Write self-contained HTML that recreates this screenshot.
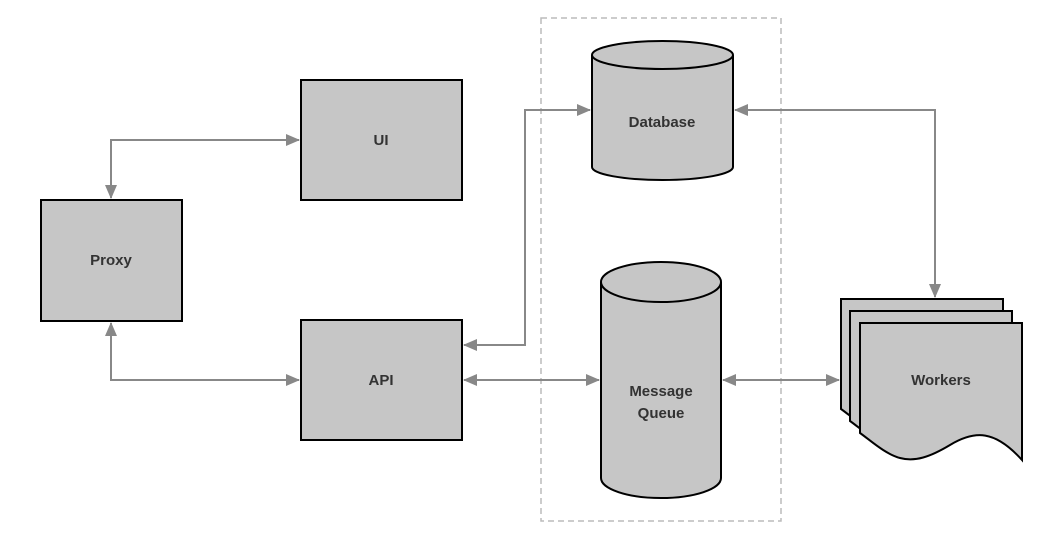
<html><body style="margin:0;background:#fff">
<svg width="1048" height="544" xmlns="http://www.w3.org/2000/svg" font-family="Liberation Sans, sans-serif" font-weight="bold" font-size="15" fill="#333">
<defs>
<marker id="b" markerWidth="14" markerHeight="12" refX="13" refY="6" orient="auto-start-reverse" markerUnits="userSpaceOnUse"><path d="M0,0 L14,6 L0,12z" fill="#888"/></marker></defs>
<rect x="541" y="18" width="240" height="503" fill="none" stroke="#bbb" stroke-width="1.5" stroke-dasharray="6,4"/>
<g fill="none" stroke="#888" stroke-width="2">
<path d="M111,198 V140 H299" marker-start="url(#b)" marker-end="url(#b)"/>
<path d="M111,323 V380 H299" marker-start="url(#b)" marker-end="url(#b)"/>
<path d="M464,345 H525 V110 H590" marker-start="url(#b)" marker-end="url(#b)"/>
<path d="M464,380 H599" marker-start="url(#b)" marker-end="url(#b)"/>
<path d="M723,380 H839" marker-start="url(#b)" marker-end="url(#b)"/>
<path d="M735,110 H935 V297" marker-start="url(#b)" marker-end="url(#b)"/>
</g>
<g stroke="#000" stroke-width="2" fill="#c6c6c6">
<rect x="301" y="80" width="161" height="120"/>
<rect x="41" y="200" width="141" height="121"/>
<rect x="301" y="320" width="161" height="120"/>
<path d="M592,55 V167 A70.5,13 0 0 0 733,167 V55 A70.5,14 0 0 0 592,55z"/>
<path d="M592,55 A70.5,14 0 0 0 733,55"/>
<path d="M601,282 V478 A60,20 0 0 0 721,478 V282 A60,20 0 0 0 601,282z"/>
<path d="M601,282 A60,20 0 0 0 721,282"/>
<g transform="translate(-19,-24)"><path d="M860,323 H1022 V460 C995,430 975,430 950,445 C930,457 915,462 900,458 C885,454 870,440 860,433z"/></g>
<g transform="translate(-10,-12)"><path d="M860,323 H1022 V460 C995,430 975,430 950,445 C930,457 915,462 900,458 C885,454 870,440 860,433z"/></g>
<path d="M860,323 H1022 V460 C995,430 975,430 950,445 C930,457 915,462 900,458 C885,454 870,440 860,433z"/>
</g>
<g text-anchor="middle">
<text x="381" y="145">UI</text>
<text x="111" y="265">Proxy</text>
<text x="381" y="385">API</text>
<text x="662" y="127">Database</text>
<text x="661" y="396">Message</text>
<text x="661" y="418">Queue</text>
<text x="941" y="385">Workers</text>
</g>
</svg>
</body></html>
